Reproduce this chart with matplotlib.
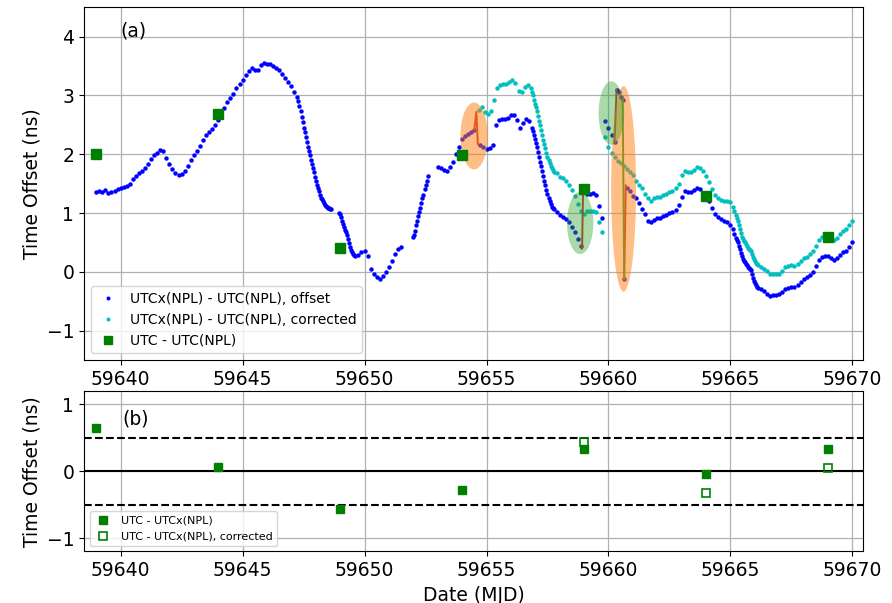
import numpy as np
import matplotlib
matplotlib.use("Agg")
import matplotlib.pyplot as plt
from matplotlib.patches import Ellipse

# ---------------------------------------------------------------------------
# UTCx(NPL) - UTC(NPL), offset (ns); each segment: start MJD, sample step, values
# ---------------------------------------------------------------------------
STEP = 1 / 8      # 3-hour samples
FINE = 1 / 24     # hourly samples

off_a1_t0 = 59639.0
off_a1 = [1.36, 1.37, 1.36, 1.39, 1.34, 1.35, 1.38, 1.41, 1.43, 1.45, 1.46, 1.50,
          1.57, 1.63, 1.68, 1.72, 1.77, 1.83, 1.92, 1.99, 2.02, 2.08, 2.06, 1.94,
          1.84, 1.75, 1.68, 1.64, 1.67, 1.72, 1.80, 1.90, 1.98, 2.06, 2.14, 2.24,
          2.32, 2.38, 2.43, 2.49, 2.59, 2.67, 2.78, 2.88, 2.96, 3.02, 3.12, 3.20,
          3.27, 3.35, 3.42, 3.46, 3.44, 3.44, 3.52, 3.55, 3.54, 3.53, 3.50, 3.47,
          3.43, 3.37, 3.29, 3.22, 3.16, 3.06, 2.97]
off_a2_t0 = 59647.2917
off_a2 = [2.90, 2.82, 2.73, 2.64, 2.55, 2.45, 2.37, 2.29, 2.21, 2.13, 2.06, 1.99,
          1.91, 1.84, 1.76, 1.69, 1.61, 1.54, 1.47, 1.42, 1.37, 1.31, 1.26, 1.23,
          1.20, 1.17, 1.14, 1.12, 1.10, 1.09, 1.08, 1.07, 1.06]
off_b1_t0 = 59648.9583
off_b1 = [1.00, 0.98, 0.93, 0.87, 0.82, 0.76, 0.71, 0.67, 0.63, 0.56, 0.49, 0.43,
          0.37, 0.33, 0.30, 0.28, 0.27]
off_b2_t0 = 59649.75
off_b2 = [0.29, 0.33, 0.36, 0.27, 0.05, -0.04, -0.08, -0.12, -0.07, 0.00, 0.08,
          0.19, 0.30, 0.39, 0.42]
off_c_t0 = 59652.0
off_c = [0.59, 0.63, 0.70, 0.79, 0.86, 0.95, 1.02, 1.08, 1.17, 1.25, 1.31, 1.40,
         1.47, 1.55, 1.63]
off_d1_t0 = 59653.0
off_d1 = [1.79, 1.76, 1.73, 1.72, 1.79, 1.86, 2.00, 2.13, 2.26, 2.31, 2.35, 2.37,
          2.42]
off_d2_t0 = 59654.75
off_d2 = [2.16, 2.12, 2.09, 2.11, 2.16, 2.50, 2.58, 2.60, 2.60, 2.62, 2.66, 2.67,
          2.58, 2.44, 2.53, 2.60, 2.57, 2.45]
off_d3_t0 = 59656.9167
off_d3 = [2.40, 2.33, 2.26, 2.19, 2.12, 2.03, 1.95, 1.87, 1.80, 1.72, 1.63, 1.55,
          1.47, 1.39, 1.32, 1.26, 1.20, 1.15, 1.11, 1.08, 1.06]
off_d4_t0 = 59657.875
off_d4 = [1.01, 0.97, 0.94, 0.89, 0.84, 0.76, 0.67, 0.56, 0.44]
off_d5_t0 = 59659.0
off_d5 = [1.36, 1.33, 1.33, 1.34, 1.30, 1.12, 0.92]
off_e1_t0 = 59659.875
off_e1 = [2.56, 2.45, 2.33, 2.21]
off_e2_t0 = 59660.3333
off_e2 = [3.10, 3.06, 2.98, 2.93]
off_e3_t0 = 59660.6458
off_e3 = [-0.13]
off_e4_t0 = 59660.75
off_e4 = [1.43, 1.37, 1.29, 1.25, 1.17, 1.07, 0.99, 0.86, 0.84, 0.88, 0.91, 0.92,
          0.95, 0.97, 1.00, 1.01, 1.05, 1.13, 1.28, 1.37, 1.35, 1.35, 1.39, 1.43,
          1.40, 1.34, 1.28, 1.20, 1.08, 0.98, 0.93, 0.90, 0.87, 0.84, 0.79, 0.72]
off_e5_t0 = 59665.1667
off_e5 = [0.65, 0.58, 0.54, 0.50, 0.44, 0.38, 0.32, 0.27, 0.22, 0.19, 0.16, 0.13,
          0.11, 0.09, 0.07, 0.05, 0.03, -0.03, -0.10, -0.15, -0.19, -0.23, -0.26]
off_e6_t0 = 59666.125
off_e6 = [-0.27, -0.30, -0.33, -0.37, -0.41, -0.40, -0.39, -0.38, -0.34, -0.29,
          -0.27, -0.25, -0.26, -0.22, -0.17, -0.13, -0.09, -0.05, 0.00, 0.10, 0.20,
          0.26, 0.27, 0.27, 0.24, 0.20, 0.23, 0.29, 0.33, 0.35, 0.42, 0.50]

# ---------------------------------------------------------------------------
# UTCx(NPL) - UTC(NPL), corrected (ns)
# ---------------------------------------------------------------------------
cor_a_t0 = 59654.6875
cor_a = [2.76, 2.81, 2.71, 2.69, 2.73, 2.92, 3.13, 3.17, 3.19, 3.19, 3.22, 3.27,
         3.21, 3.08, 3.06, 3.14, 3.17, 3.12]
cor_b_t0 = 59656.875
cor_b = [3.05, 3.00, 2.93, 2.86, 2.80, 2.73, 2.65, 2.57, 2.49, 2.42, 2.33, 2.25,
         2.18, 2.10, 2.02, 1.95, 1.90, 1.85, 1.80, 1.76, 1.73, 1.70]
cor_c_t0 = 59657.875
cor_c = [1.68, 1.62, 1.60, 1.54, 1.47, 1.39, 1.29, 1.16, 1.04, 0.99, 1.03, 1.04,
         1.04, 1.02, 0.84, 0.68]
cor_d_t0 = 59659.875
cor_d = [2.29, 2.12, 2.02, 1.95, 1.89, 1.85, 1.80, 1.75, 1.70, 1.65, 1.55, 1.47,
         1.42, 1.33, 1.26, 1.21, 1.25, 1.27, 1.28, 1.31, 1.33, 1.36, 1.38, 1.42,
         1.50, 1.64, 1.71, 1.69, 1.70, 1.74, 1.78, 1.77, 1.72, 1.63, 1.52, 1.40,
         1.31, 1.25, 1.22, 1.21, 1.20, 1.18, 1.10]
cor_e_t0 = 59665.1667
cor_e = [1.03, 0.97, 0.92, 0.86, 0.79, 0.72, 0.66, 0.60, 0.56, 0.53, 0.50, 0.47,
         0.44, 0.41, 0.39, 0.37, 0.35, 0.31, 0.26, 0.21, 0.18, 0.15, 0.13]
cor_f_t0 = 59666.125
cor_f = [0.12, 0.09, 0.05, 0.01, -0.04, -0.03, -0.03, -0.03, 0.02, 0.08, 0.10,
         0.11, 0.10, 0.14, 0.19, 0.23, 0.26, 0.30, 0.35, 0.44, 0.54, 0.60, 0.61,
         0.60, 0.57, 0.54, 0.58, 0.64, 0.70, 0.72, 0.79, 0.87]

# Steps in the offset series (upward jumps red, downward jump green)
jump_up_1_x = [59654.50, 59654.583, 59654.646]
jump_up_1_y = [2.42, 2.72, 2.17]
jump_up_2_x = [59658.875, 59658.917, 59658.958]
jump_up_2_y = [0.44, 0.39, 1.36]
jump_up_3_x = [59660.25, 59660.333]
jump_up_3_y = [2.21, 3.10]
jump_down_x = [59660.583, 59660.646]
jump_down_y = [2.93, -0.13]
jump_up_4_x = [59660.646, 59660.708]
jump_up_4_y = [-0.13, 1.47]

# Highlighted regions: centre MJD, centre ns, width (days), height (ns)
steps_orange = [(59654.49, 2.31, 1.12, 1.14), (59660.62, 1.41, 1.02, 3.50)]
steps_green = [(59658.84, 0.83, 1.08, 1.06), (59660.12, 2.70, 1.05, 1.08)]

# UTC - UTC(NPL) from Circular T
circt_mjd = [59639, 59644, 59649, 59654, 59659, 59664, 59669]
utc_npl = [2.00, 2.69, 0.40, 1.98, 1.40, 1.29, 0.59]

# Panel (b)
diff_mjd = [59639, 59644, 59649, 59654, 59659, 59664, 59669]
diff_vals = [0.64, 0.06, -0.57, -0.28, 0.34, -0.04, 0.33]
diff_cor_mjd = [59659, 59664, 59669]
diff_cor_vals = [0.44, -0.33, 0.05]

xticks = [59640, 59645, 59650, 59655, 59660, 59665, 59670]


def segment(t0, vals, step):
    return t0 + step * np.arange(len(vals)), np.asarray(vals)


offset_segments = [
    segment(off_a1_t0, off_a1, STEP), segment(off_a2_t0, off_a2, FINE),
    segment(off_b1_t0, off_b1, FINE), segment(off_b2_t0, off_b2, STEP),
    segment(off_c_t0, off_c, FINE), segment(off_d1_t0, off_d1, STEP),
    segment(off_d2_t0, off_d2, STEP), segment(off_d3_t0, off_d3, FINE),
    segment(off_d4_t0, off_d4, STEP), segment(off_d5_t0, off_d5, STEP),
    segment(off_e1_t0, off_e1, STEP), segment(off_e2_t0, off_e2, 1 / 12),
    segment(off_e3_t0, off_e3, STEP), segment(off_e4_t0, off_e4, STEP),
    segment(off_e5_t0, off_e5, FINE), segment(off_e6_t0, off_e6, STEP),
]
corrected_segments = [
    segment(cor_a_t0, cor_a, STEP), segment(cor_b_t0, cor_b, FINE),
    segment(cor_c_t0, cor_c, STEP), segment(cor_d_t0, cor_d, STEP),
    segment(cor_e_t0, cor_e, FINE), segment(cor_f_t0, cor_f, STEP),
]
off_t = np.concatenate([s[0] for s in offset_segments])
off_v = np.concatenate([s[1] for s in offset_segments])
cor_t = np.concatenate([s[0] for s in corrected_segments])
cor_v = np.concatenate([s[1] for s in corrected_segments])

plt.rcParams["font.family"] = ["DejaVu Sans"]

fig = plt.figure(figsize=(8.92, 6.03), dpi=100)
ax1 = fig.add_axes([0.0942, 0.403, 0.8737, 0.585])
ax2 = fig.add_axes([0.0942, 0.0855, 0.8737, 0.266])

# ---- panel (a) ----
ax1.plot(off_t, off_v, ls="none", marker="o", ms=3.2, mew=0, color="b",
         zorder=2, label="UTCx(NPL) - UTC(NPL), offset")
ax1.plot(cor_t, cor_v, ls="none", marker="o", ms=3.2, mew=0, color="c",
         zorder=2, label="UTCx(NPL) - UTC(NPL), corrected")
for jx, jy in [(jump_up_1_x, jump_up_1_y), (jump_up_2_x, jump_up_2_y),
               (jump_up_3_x, jump_up_3_y), (jump_up_4_x, jump_up_4_y)]:
    ax1.plot(jx, jy, color="tab:red", lw=1.4, zorder=2.5)
ax1.plot(jump_down_x, jump_down_y, color="tab:green", lw=1.4, zorder=2.5)

for cx, cy, w, h in steps_orange:
    ax1.add_patch(Ellipse((cx, cy), w, h, facecolor="tab:orange",
                          edgecolor="none", alpha=0.5, zorder=3))
for cx, cy, w, h in steps_green:
    ax1.add_patch(Ellipse((cx, cy), w, h, facecolor="tab:green",
                          edgecolor="none", alpha=0.4, zorder=3))

ax1.plot(circt_mjd, utc_npl, ls="none", marker="s", ms=6.5, color="g",
         zorder=4, label="UTC - UTC(NPL)")

ax1.set_xlim(59638.5, 59670.45)
ax1.set_ylim(-1.5, 4.5)
ax1.set_xticks(xticks)
ax1.set_yticks([-1, 0, 1, 2, 3, 4])
ax1.grid(True, color="#b0b0b0", lw=0.9)
ax1.set_axisbelow(True)
ax1.set_ylabel("Time Offset (ns)", fontsize=13.5)
ax1.tick_params(labelsize=13.5)
ax1.text(0.046, 0.933, "(a)", transform=ax1.transAxes, fontsize=13.5,
         ha="left", va="center")
ax1.legend(loc="lower left", fontsize=10, markerscale=0.9, handlelength=1.6,
           borderaxespad=0.5)

# ---- panel (b) ----
ax2.axhline(0, color="k", lw=1.5, zorder=1.5)
ax2.axhline(0.5, color="k", lw=1.5, ls="--", zorder=1.5)
ax2.axhline(-0.5, color="k", lw=1.5, ls="--", zorder=1.5)
ax2.plot(diff_mjd, diff_vals, ls="none", marker="s", ms=6, color="g",
         zorder=3, label="UTC - UTCx(NPL)")
ax2.plot(diff_cor_mjd, diff_cor_vals, ls="none", marker="s", ms=6,
         mfc="none", mec="g", mew=1.2, zorder=3,
         label="UTC - UTCx(NPL), corrected")
ax2.set_xlim(59638.5, 59670.45)
ax2.set_ylim(-1.2, 1.2)
ax2.set_xticks(xticks)
ax2.set_yticks([-1, 0, 1])
ax2.grid(True, color="#b0b0b0", lw=0.9)
ax2.set_axisbelow(True)
ax2.set_ylabel("Time Offset (ns)", fontsize=13.5)
ax2.set_xlabel("Date (MJD)", fontsize=13.5)
ax2.tick_params(labelsize=13.5)
ax2.text(0.049, 0.826, "(b)", transform=ax2.transAxes, fontsize=13.5,
         ha="left", va="center")
ax2.legend(loc="lower left", fontsize=8, handlelength=1.6,
           borderaxespad=0.5)

fig.savefig("out.png", dpi=100)
